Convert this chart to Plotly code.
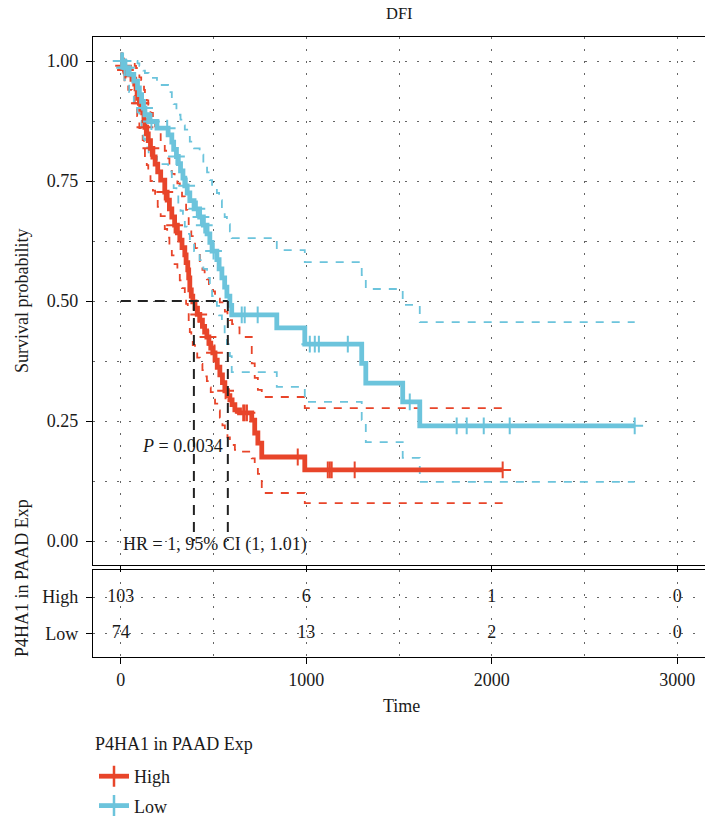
import plotly.graph_objects as go

# ---------------- data ----------------
low_times = [20, 45, 70, 90, 100, 112, 122, 130, 150, 195, 255, 275, 285, 300, 310, 322, 335, 345,
             358, 372, 395, 425, 445, 465, 480, 492, 518, 530, 545, 560, 572, 588, 598, 841, 992,
             1299, 1321, 1520, 1612]
low_surv = [0.986, 0.972, 0.958, 0.944, 0.930, 0.916, 0.902, 0.888, 0.874, 0.860, 0.846, 0.831,
            0.816, 0.801, 0.786, 0.771, 0.756, 0.740, 0.725, 0.709, 0.692, 0.675, 0.658, 0.640,
            0.622, 0.604, 0.586, 0.567, 0.548, 0.529, 0.510, 0.491, 0.471, 0.444, 0.410, 0.370,
            0.329, 0.290, 0.240]
low_lower = [0.960, 0.935, 0.913, 0.893, 0.875, 0.856, 0.838, 0.820, 0.800, 0.785, 0.770, 0.752,
             0.735, 0.720, 0.705, 0.688, 0.672, 0.655, 0.640, 0.622, 0.604, 0.585, 0.567, 0.548,
             0.530, 0.510, 0.490, 0.470, 0.450, 0.430, 0.410, 0.385, 0.352, 0.321, 0.290, 0.252,
             0.206, 0.173, 0.123]
low_upper = [1.000, 1.000, 1.000, 0.995, 0.990, 0.985, 0.980, 0.975, 0.965, 0.950, 0.935, 0.920,
             0.910, 0.898, 0.888, 0.878, 0.866, 0.857, 0.845, 0.832, 0.818, 0.805, 0.785, 0.768,
             0.752, 0.740, 0.725, 0.710, 0.690, 0.675, 0.660, 0.645, 0.631, 0.606, 0.581, 0.554,
             0.525, 0.492, 0.456]
low_end = 2771
low_censor = [2, 6, 12, 20, 30, 128, 165, 250, 300, 355, 410, 432, 450, 500, 652, 668, 738,
              1019, 1046, 1068, 1224, 1558, 1811, 1865, 1957, 2097, 2771]

high_times = [10, 20, 40, 60, 75, 82, 88, 92, 100, 110, 118, 125, 130, 140, 148, 160, 173, 185,
              199, 215, 237, 250, 262, 275, 290, 305, 318, 330, 345, 352, 361, 366, 372, 380, 388,
              400, 412, 426, 440, 452, 464, 475, 485, 496, 508, 520, 534, 548, 561, 575, 588, 600,
              615, 640, 706, 722, 739, 760, 992]
high_surv = [0.990, 0.981, 0.971, 0.962, 0.952, 0.942, 0.932, 0.922, 0.912, 0.902, 0.892, 0.876,
             0.862, 0.848, 0.834, 0.818, 0.800, 0.785, 0.769, 0.752, 0.727, 0.710, 0.692, 0.675,
             0.658, 0.642, 0.627, 0.611, 0.596, 0.580, 0.565, 0.548, 0.523, 0.510, 0.498, 0.485,
             0.472, 0.460, 0.447, 0.435, 0.425, 0.412, 0.402, 0.392, 0.377, 0.362, 0.346, 0.330,
             0.313, 0.303, 0.294, 0.284, 0.273, 0.267, 0.252, 0.225, 0.204, 0.175, 0.148]
high_lower = [0.972, 0.955, 0.940, 0.927, 0.913, 0.900, 0.885, 0.872, 0.860, 0.848, 0.835, 0.815,
              0.800, 0.783, 0.768, 0.750, 0.730, 0.713, 0.696, 0.677, 0.650, 0.632, 0.613, 0.595,
              0.577, 0.560, 0.543, 0.527, 0.510, 0.494, 0.478, 0.460, 0.435, 0.421, 0.408, 0.395,
              0.382, 0.369, 0.356, 0.343, 0.333, 0.320, 0.310, 0.300, 0.286, 0.272, 0.257, 0.241,
              0.226, 0.216, 0.208, 0.200, 0.190, 0.186, 0.172, 0.155, 0.140, 0.100, 0.079]
high_upper = [1.000, 1.000, 1.000, 0.996, 0.990, 0.985, 0.978, 0.972, 0.966, 0.960, 0.952, 0.940,
              0.930, 0.918, 0.906, 0.892, 0.877, 0.864, 0.850, 0.835, 0.813, 0.797, 0.781, 0.765,
              0.755, 0.745, 0.732, 0.718, 0.705, 0.690, 0.675, 0.660, 0.645, 0.635, 0.625, 0.610,
              0.598, 0.575, 0.565, 0.555, 0.545, 0.535, 0.527, 0.520, 0.512, 0.505, 0.497, 0.490,
              0.478, 0.468, 0.460, 0.452, 0.445, 0.425, 0.370, 0.340, 0.315, 0.300, 0.277]
high_end = 2059
high_censor = [3, 8, 15, 25, 100, 108, 130, 162, 237, 290, 420, 470, 505, 565, 660, 668, 680,
               954, 1116, 1127, 1137, 1261, 2059]

median_high = 394
median_low = 577

risk_times = [0, 1000, 2000, 3000]
risk_high = [103, 6, 1, 0]
risk_low = [74, 13, 2, 0]

group_names = ["High", "Low"]
strata_title = "P4HA1 in PAAD Exp"
p_label = "<i>P</i> = 0.0034"
hr_label = "HR = 1, 95% CI (1, 1.01)"

# ---------------- styling ----------------
RED = "#E8452A"
BLUE = "#6CC4DC"
FONT = "Liberation Serif"
FS = 18
TXT = "#1a1a1a"
GRID = "rgba(0,0,0,0.6)"
GDASH = "1.5px,10.5px"
W, H = 705, 819


def step_xy(times, vals, end):
    return [0] + list(times) + [end], [1.0] + list(vals) + [vals[-1]]


def step_at(times, vals, t):
    v = 1.0
    for ti, vi in zip(times, vals):
        if ti <= t:
            v = vi
    return v


fig = go.Figure()

groups = [
    (high_times, high_surv, high_lower, high_upper, high_end, high_censor, RED),
    (low_times, low_surv, low_lower, low_upper, low_end, low_censor, BLUE),
]

for times, surv, lo, hi, end, cens, col in groups:
    for band in (lo, hi):
        bx, by = step_xy(times, band, end)
        fig.add_trace(go.Scatter(x=bx, y=by, mode="lines",
                                 line=dict(color=col, width=1.8, dash="8px,8px", shape="hv"),
                                 showlegend=False, hoverinfo="skip", xaxis="x", yaxis="y"))

for times, surv, lo, hi, end, cens, col in groups:
    sx, sy = step_xy(times, surv, end)
    fig.add_trace(go.Scatter(x=sx, y=sy, mode="lines", line=dict(color=col, width=4.8, shape="hv"),
                             showlegend=False, xaxis="x", yaxis="y"))
    cy = [step_at(times, surv, t) for t in cens]
    fig.add_trace(go.Scatter(x=cens, y=cy, mode="markers",
                             marker=dict(symbol="cross-thin", size=12, line=dict(color=col, width=2)),
                             showlegend=False, xaxis="x", yaxis="y"))

# median lines
mmax = max(median_high, median_low)
fig.add_trace(go.Scatter(x=[0, mmax], y=[0.5, 0.5], mode="lines",
                         line=dict(color="#222", width=2, dash="10px,7px"),
                         showlegend=False, xaxis="x", yaxis="y"))
for m in (median_high, median_low):
    fig.add_trace(go.Scatter(x=[m, m], y=[0.5, 0.0], mode="lines",
                             line=dict(color="#222", width=2, dash="10px,7px"),
                             showlegend=False, xaxis="x", yaxis="y"))

# risk table
fig.add_trace(go.Scatter(x=risk_times, y=[2] * len(risk_times), mode="text", text=[str(v) for v in risk_high],
                         textfont=dict(family=FONT, size=FS, color=TXT), showlegend=False,
                         xaxis="x2", yaxis="y2"))
fig.add_trace(go.Scatter(x=risk_times, y=[1] * len(risk_times), mode="text", text=[str(v) for v in risk_low],
                         textfont=dict(family=FONT, size=FS, color=TXT), showlegend=False,
                         xaxis="x2", yaxis="y2"))

# legend entries
for name, col in zip(group_names, [RED, BLUE]):
    fig.add_trace(go.Scatter(x=[None], y=[None], mode="lines+markers", name=name, legendgroup=name,
                             line=dict(color=col, width=4.8),
                             marker=dict(symbol="cross-thin", size=15, line=dict(color=col, width=2.5)),
                             xaxis="x", yaxis="y"))

XD = [93 / W, 1.0]
common_x = dict(range=[-150, 3150], dtick=1000, tick0=0, ticks="outside", ticklen=6, tickcolor="black",
                showline=True, mirror=True, linecolor="black", linewidth=1.2, zeroline=False,
                showgrid=True, gridcolor=GRID, griddash=GDASH, gridwidth=1,
                minor=dict(dtick=500, tick0=0, showgrid=True, gridcolor=GRID, griddash=GDASH, gridwidth=1),
                tickfont=dict(family=FONT, size=FS, color=TXT), automargin=False)

fig.update_layout(
    width=W, height=H, margin=dict(l=0, r=0, t=0, b=0, autoexpand=False),
    paper_bgcolor="white", plot_bgcolor="white",
    font=dict(family=FONT, size=FS, color=TXT),
    xaxis=dict(domain=XD, anchor="y", showticklabels=False, **common_x),
    yaxis=dict(domain=[(H - 565) / H, (H - 37) / H], range=[-0.05, 1.05], dtick=0.25, tick0=0, tickformat=".2f",
               ticks="outside", ticklen=6, tickcolor="black", showline=True, mirror=True, linecolor="black",
               linewidth=1.2, zeroline=False, showgrid=True, gridcolor=GRID, griddash=GDASH,
               minor=dict(dtick=0.125, tick0=0, showgrid=True, gridcolor=GRID, griddash=GDASH),
               tickfont=dict(family=FONT, size=FS, color=TXT), ticklabelstandoff=4, automargin=False,
               anchor="x"),
    xaxis2=dict(domain=XD, anchor="y2", matches="x", showticklabels=True, **common_x),
    yaxis2=dict(domain=[(H - 657) / H, (H - 570) / H], range=[0.378, 2.73], tickvals=[1, 2],
                ticktext=["Low", "High"],
                ticks="outside", ticklen=6, tickcolor="black", showline=True, mirror=True, linecolor="black",
                linewidth=1.2, zeroline=False, showgrid=True, gridcolor=GRID, griddash=GDASH,
                tickfont=dict(family=FONT, size=FS, color=TXT), ticklabelstandoff=4, automargin=False,
                anchor="x2"),
    legend=dict(x=94 / W, xanchor="left", y=(H - 758) / H, yanchor="top", xref="container", yref="container",
                bgcolor="rgba(0,0,0,0)", font=dict(family=FONT, size=FS, color=TXT), orientation="v",
                tracegroupgap=3),
    showlegend=True,
)


def pann(text, px, py, angle=0, size=FS):
    return dict(text=text, x=px / W, y=(H - py) / H, xref="paper", yref="paper", showarrow=False,
                xanchor="center", yanchor="middle", textangle=angle, font=dict(family=FONT, size=size, color=TXT))


ann = [
    pann("DFI", 399, 13, size=16.5),
    pann("Survival probability", 22, 301, angle=-90),
    pann(strata_title, 22, 578, angle=-90),
    pann("Time", 401, 706),
    dict(text=strata_title, x=93 / W, y=(H - 744) / H, xref="paper", yref="paper", showarrow=False,
         xanchor="left", yanchor="middle", font=dict(family=FONT, size=FS, color=TXT)),
    dict(text=p_label, x=334, y=0.198, xref="x", yref="y", showarrow=False, xanchor="center",
         yanchor="middle", font=dict(family=FONT, size=FS, color=TXT)),
    dict(text=hr_label, x=507, y=-0.008, xref="x", yref="y", showarrow=False, xanchor="center",
         yanchor="middle", font=dict(family=FONT, size=FS, color=TXT)),
]
fig.update_layout(annotations=ann)

fig.write_html("out.html")
